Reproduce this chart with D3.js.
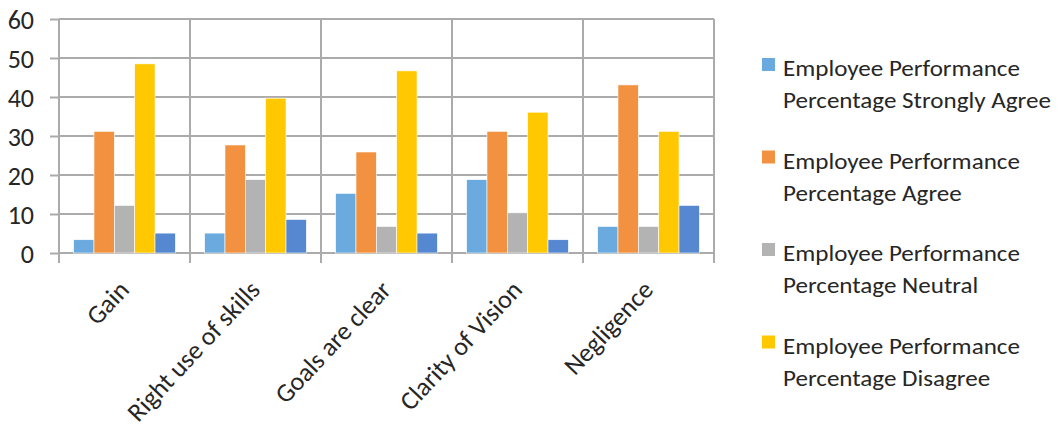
<!DOCTYPE html>
<html>
<head>
<meta charset="utf-8">
<script src="https://cdn.jsdelivr.net/npm/d3@7"></script>
<style>
  html, body { margin: 0; padding: 0; background: #fff; }
  svg { display: block; }
  text { font-family: Carlito, "Open Sans", Lato, sans-serif; fill: #262626; }
</style>
</head>
<body>
<svg id="chart" width="1060" height="430"></svg>
<script>
const categories = ["Gain", "Right use of skills", "Goals are clear", "Clarity of Vision", "Negligence"];
const seriesNames = [
  "Employee Performance Percentage Strongly Agree",
  "Employee Performance Percentage Agree",
  "Employee Performance Percentage Neutral",
  "Employee Performance Percentage Disagree",
  "Series 5"
];
const legendLines = [
  ["Employee Performance", "Percentage Strongly Agree"],
  ["Employee Performance", "Percentage Agree"],
  ["Employee Performance", "Percentage Neutral"],
  ["Employee Performance", "Percentage Disagree"]
];
const stronglyAgree = [3.4, 5.1, 15.3, 18.8, 6.8];
const agree = [31.2, 27.7, 25.9, 31.2, 43.1];
const neutral = [12.2, 18.8, 6.8, 10.3, 6.8];
const disagree = [48.5, 39.7, 46.7, 36.1, 31.2];
const series5 = [5.1, 8.6, 5.1, 3.4, 12.2];
const seriesValues = [stronglyAgree, agree, neutral, disagree, series5];
const colors = ["#6aaadf", "#f2913f", "#b3b3b3", "#ffc800", "#5588d0"];
const yTicks = [0, 10, 20, 30, 40, 50, 60];

const svg = d3.select("#chart");
const plotLeft = 59, plotRight = 714, plotTop = 19, plotBottom = 253;
const gridColor = "#ababab";

const x0 = d3.scaleBand().domain(categories).range([plotLeft, plotRight]).paddingInner(0).paddingOuter(0);
const x1 = d3.scaleBand().domain(d3.range(seriesValues.length)).range([0, x0.bandwidth()]).paddingInner(0).paddingOuter(0.72);
const y = d3.scaleLinear().domain([0, 60]).range([plotBottom, plotTop]);

// horizontal gridlines + y ticks
const yAxis = d3.axisLeft(y).tickValues(yTicks).tickSize(9).tickPadding(16).tickFormat(d3.format("d"));
const gy = svg.append("g").attr("transform", `translate(${plotLeft},0)`).call(yAxis);
gy.select(".domain").remove();
gy.selectAll(".tick line").attr("stroke", gridColor).attr("stroke-width", 2);
gy.selectAll(".tick text").style("font-size", "26px").attr("fill", "#262626").attr("dy", "0.36em");

svg.append("g").selectAll("line").data(yTicks).join("line")
  .attr("x1", plotLeft).attr("x2", plotRight)
  .attr("y1", d => y(d)).attr("y2", d => y(d))
  .attr("stroke", gridColor).attr("stroke-width", 2);

// vertical gridlines at category boundaries (extending below axis as ticks)
const bounds = categories.map(c => x0(c)).concat([plotRight]);
svg.append("g").selectAll("line").data(bounds).join("line")
  .attr("x1", d => d).attr("x2", d => d)
  .attr("y1", plotTop).attr("y2", plotBottom + 10)
  .attr("stroke", gridColor).attr("stroke-width", 2);

// bars
const groups = svg.append("g").selectAll("g").data(categories).join("g")
  .attr("transform", c => `translate(${x0(c)},0)`);
groups.selectAll("rect").data((c, ci) => seriesValues.map((vals, si) => ({si, v: vals[ci]})))
  .join("rect")
  .attr("x", d => x1(d.si))
  .attr("width", x1.bandwidth())
  .attr("y", d => y(d.v))
  .attr("height", d => y(0) - y(d.v))
  .attr("fill", d => colors[d.si])
  .attr("stroke", "#ffffff").attr("stroke-width", 0.6);

// x labels rotated
svg.append("g").selectAll("text").data(categories).join("text")
  .attr("transform", c => `translate(${x0(c) + x0.bandwidth() / 2 + 6},${291}) rotate(-47)`)
  .attr("text-anchor", "end")
  .style("font-size", "26px")
  .text(c => c);

// legend
const lg = svg.append("g").selectAll("g").data(legendLines).join("g")
  .attr("transform", (d, i) => `translate(762,${58 + i * 92.5})`);
lg.append("rect").attr("width", 13).attr("height", 13).attr("fill", (d, i) => colors[i]);
const lt = lg.append("g").attr("transform", "translate(21,0) scale(1.09,1)");
lt.append("text").attr("x", 0).attr("y", 18).style("font-size", "23px").text(d => d[0]);
lt.append("text").attr("x", 0).attr("y", 50.5).style("font-size", "23px").text(d => d[1]);
</script>
</body>
</html>
